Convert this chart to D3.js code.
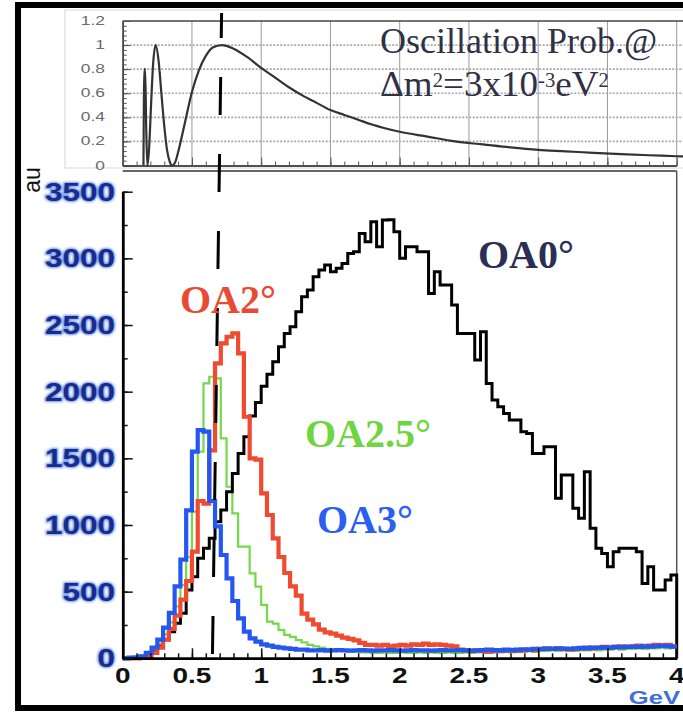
<!DOCTYPE html>
<html><head><meta charset="utf-8">
<script src="https://cdn.jsdelivr.net/npm/d3@7"></script>
<style>body{margin:0;background:#fff}svg{display:block}</style>
</head><body><svg id="c" width="683" height="714"></svg>
<script>
// ---------------- DATA ----------------
const binWidth = 1 / 24; // GeV per histogram bin (96 bins, 0-4 GeV)
const seriesNames = ["OA0°", "OA2°", "OA2.5°", "OA3°"];
const oa0 = [0,0,5,15,25,50,90,140,200,262,337,512,612,750,825,900,1025,1112,1250,1387,
  1537,1662,1818,1918,2040,2130,2225,2337,2437,2487,2600,2712,2762,2862,2912,2950,2900,2925,2962,3037,
  3050,3187,3125,3275,3087,3287,3290,3200,3000,3087,3087,3050,3050,2737,2900,2800,2800,2650,2437,2437,
  2437,2237,2450,2062,1937,1887,1837,1787,1787,1700,1687,1537,1537,1587,1587,1200,1375,1375,1125,1050,
  1400,975,825,787,687,800,825,825,825,800,562,687,512,512,587,625];
const oa2 = [0,0,0,5,15,40,80,140,220,320,440,580,800,1180,1160,1560,2212,2362,2412,2437,
  2287,1812,1500,1490,1237,1075,900,760,640,540,470,335,290,255,215,195,185,170,155,145,
  135,115,100,100,95,100,90,95,100,95,105,100,110,100,105,100,95,90,65,60,
  55,60,55,50,55,60,55,60,55,60,65,60,70,75,70,75,70,65,70,75,
  80,75,80,85,80,85,90,85,90,95,90,95,100,95,100,90];
const oa25 = [0,3,8,15,35,65,110,180,270,390,550,760,1100,1550,2062,2112,2100,1650,1287,1087,
  837,837,637,537,400,275,260,212,175,160,137,120,100,90,80,70,65,60,55,50,
  50,45,45,40,40,45,40,40,45,40,40,45,40,45,40,40,45,40,40,45,
  40,45,45,40,45,45,50,45,50,50,55,50,55,55,60,55,60,60,55,60,
  60,65,60,65,65,70,65,70,70,75,70,75,75,80,75,80];
const oa3 = [0,5,8,15,40,80,140,230,340,540,740,1110,1550,1712,1700,1180,990,775,600,430,
  300,200,150,125,105,95,85,80,75,70,65,65,60,60,62,58,60,62,60,58,
  60,62,60,58,60,60,62,60,58,60,62,60,60,58,60,62,60,60,62,60,
  58,60,62,65,62,60,65,62,65,68,65,70,68,72,70,75,72,70,75,78,
  75,80,78,82,80,85,82,85,88,85,90,88,92,95,92,88];
// oscillation probability
const probE = [0.150,0.156,0.162,0.170,0.178,0.190,0.205,0.220,0.238,0.260,0.280,0.300,0.320,0.340,0.358,
  0.380,0.400,0.450,0.500,0.550,0.600,0.650,0.716,0.800,0.900,1.000,1.100,1.200,1.300,1.400,1.500,1.600,
  1.700,1.800,2.000,2.200,2.400,2.600,2.800,3.000,3.200,3.400,3.600,3.800,4.000,4.050];
const probP = [0.00,0.80,0.80,0.30,0.00,0.13,0.51,0.85,1.00,0.86,0.59,0.33,0.13,0.03,0.00,
  0.03,0.11,0.36,0.61,0.79,0.91,0.98,1.00,0.97,0.90,0.81,0.73,0.65,0.58,0.52,0.46,0.42,
  0.38,0.34,0.28,0.24,0.20,0.175,0.15,0.13,0.118,0.105,0.094,0.085,0.077,0.075];
const xTicks = [0, 0.5, 1, 1.5, 2, 2.5, 3, 3.5, 4];
const xTickLabels = ["0", "0.5", "1", "1.5", "2", "2.5", "3", "3.5", "4"];
const yTicks = [0, 500, 1000, 1500, 2000, 2500, 3000, 3500];
const yTickLabels = ["0", "500", "1000", "1500", "2000", "2500", "3000", "3500"];
const probTicks = [0, 0.2, 0.4, 0.6, 0.8, 1, 1.2];
const probTickLabels = ["0", "0.2", "0.4", "0.6", "0.8", "1", "1.2"];
const markerE = [0.714, 0.648]; // dashed marker: energy at top and at bottom of the figure
const yTitle = "au";
const xUnit = "GeV";

// ---------------- DRAW ----------------
const svg = d3.select("#c");
const x = d3.scaleLinear().domain([0, 4]).range([122.7, 676.7]);
const y = d3.scaleLinear().domain([0, 3500]).range([658.3, 191.7]);
const yp = d3.scaleLinear().domain([0, 1.2]).range([165.5, 21]);

const defs = svg.append("defs");
const f = defs.append("filter").attr("id", "glow").attr("x", "-20%").attr("y", "-40%").attr("width", "140%").attr("height", "180%");
f.append("feGaussianBlur").attr("stdDeviation", 0.9);

function stext(g, px, py, txt, o) {
  return g.append("text")
    .attr("transform", `translate(${px},${py}) scale(${o.sx || 1},1)`)
    .attr("text-anchor", o.anchor || "start")
    .attr("font-family", o.family || "Liberation Sans, Arial, sans-serif")
    .attr("font-size", o.size)
    .attr("font-weight", o.weight || "normal")
    .attr("fill", o.fill || "#000")
    .text(txt);
}

// outer thick border
svg.append("rect").attr("x", 18).attr("y", 5).attr("width", 720).attr("height", 703)
  .attr("fill", "none").attr("stroke", "#000").attr("stroke-width", 6);

// ---------- upper panel (oscillation probability) ----------
const gTop = svg.append("g");
gTop.append("rect").attr("x", 65).attr("y", 10).attr("width", 640).attr("height", 158)
  .attr("fill", "#fff").attr("stroke", "#d6d6d6");
gTop.selectAll("line.vg").data(xTicks.slice(1)).join("line").attr("class", "vg")
  .attr("x1", d => x(d)).attr("x2", d => x(d)).attr("y1", yp(1.2)).attr("y2", yp(0))
  .attr("stroke", "#9a9a9a").attr("stroke-width", 1);
gTop.selectAll("line.hg").data(probTicks.slice(1, -1)).join("line").attr("class", "hg")
  .attr("x1", x(0)).attr("x2", 683).attr("y1", d => yp(d)).attr("y2", d => yp(d))
  .attr("stroke", "#a8a8a8").attr("stroke-width", 1.6).attr("stroke-dasharray", "2,1.5");
gTop.append("line").attr("x1", x(0)).attr("x2", 683).attr("y1", yp(1.2)).attr("y2", yp(1.2))
  .attr("stroke", "#444").attr("stroke-width", 1.5);
gTop.append("g").attr("transform", `translate(${x(0)},0)`)
  .call(d3.axisLeft(yp).tickValues(probTicks).tickSizeInner(-8).tickSizeOuter(0).tickFormat(() => ""));
gTop.append("g").attr("transform", `translate(${x(0)},0)`)
  .call(d3.axisLeft(yp).tickValues(d3.range(0, 1.2001, 0.04)).tickSizeInner(-4).tickSizeOuter(0).tickFormat(() => ""));
gTop.append("g").attr("transform", `translate(0,${yp(0)})`)
  .call(d3.axisBottom(x).tickValues(xTicks).tickSizeInner(-8).tickSizeOuter(0).tickFormat(() => ""));
gTop.append("g").attr("transform", `translate(0,${yp(0)})`)
  .call(d3.axisBottom(x).tickValues(d3.range(0, 4.0001, 0.1)).tickSizeInner(-4).tickSizeOuter(0).tickFormat(() => ""));
gTop.selectAll(".domain").attr("stroke", "#444").attr("stroke-width", 1.5);
gTop.selectAll(".tick line").attr("stroke", "#555");
gTop.selectAll("text.pl").data(probTicks).join("text").attr("class", "pl")
  .attr("transform", d => `translate(105,${yp(d) + 4}) scale(1.45,1)`)
  .attr("text-anchor", "end").attr("font-family", "Liberation Sans, Arial, sans-serif")
  .attr("font-size", 12).attr("fill", "#6a6a6a").text((d, i) => probTickLabels[i]);
const prob = probE.map((e, i) => [e, probP[i]]);
gTop.append("path").datum(prob)
  .attr("d", d3.line().x(d => Math.min(x(d[0]), 683)).y(d => yp(d[1])).curve(d3.curveMonotoneX))
  .attr("fill", "none").attr("stroke", "#333").attr("stroke-width", 2.2);
stext(gTop, 380, 53, "Oscillation Prob.@", {family: "Liberation Serif, Times New Roman, serif", size: 36, fill: "#2f3146", sx: 1.0});
const a2 = gTop.append("text").attr("transform", "translate(380,96) scale(1.03,1)")
  .attr("font-family", "Liberation Serif, Times New Roman, serif").attr("font-size", 36).attr("fill", "#2f3146");
a2.append("tspan").text("Δm");
a2.append("tspan").attr("dy", -9).attr("font-size", 20).text("2");
a2.append("tspan").attr("dy", 9).text("=3x10");
a2.append("tspan").attr("dy", -9).attr("font-size", 20).text("-3");
a2.append("tspan").attr("dy", 9).text("eV");
a2.append("tspan").attr("dy", -9).attr("font-size", 20).text("2");

// ---------- main panel ----------
const main = svg.append("g");
main.append("line").attr("x1", x(0)).attr("x2", x(4)).attr("y1", 171).attr("y2", 171)
  .attr("stroke", "#333").attr("stroke-width", 1.6);
main.append("line").attr("x1", x(4)).attr("x2", x(4)).attr("y1", 171).attr("y2", y(0))
  .attr("stroke", "#555").attr("stroke-width", 1.5);

function histPoints(vals, closeRight) {
  const p = vals.map((v, i) => [i * binWidth, v]);
  p.push([vals.length * binWidth, vals[vals.length - 1]]);
  if (closeRight) p.push([vals.length * binWidth, 0]);
  return p;
}
const hline = d3.line().x(d => x(d[0])).y(d => y(d[1])).curve(d3.curveStepAfter);
const series = [
  {vals: oa25, color: "#74d94a", w: 2.2, close: false},
  {vals: oa0, color: "#000", w: 3, close: true},
  {vals: oa2, color: "#ee4b30", w: 4.2, close: false},
  {vals: oa3, color: "#2457f0", w: 4.2, close: false}
];
main.selectAll("path.h").data(series).join("path").attr("class", "h")
  .attr("d", s => hline(histPoints(s.vals, s.close)))
  .attr("fill", "none").attr("stroke", s => s.color).attr("stroke-width", s => s.w);

main.append("g").attr("transform", `translate(0,${y(0)})`)
  .call(d3.axisBottom(x).tickValues(d3.range(0, 4.0001, 0.1)).tickSizeInner(-5).tickSizeOuter(0).tickFormat(() => ""));
main.append("g").attr("transform", `translate(0,${y(0)})`)
  .call(d3.axisBottom(x).tickValues(xTicks).tickSizeInner(-10).tickSizeOuter(0).tickFormat(() => ""));
main.append("g").attr("transform", `translate(${x(0)},0)`)
  .call(d3.axisLeft(y).tickValues(d3.range(0, 3500.1, 250)).tickSizeInner(-5).tickSizeOuter(0).tickFormat(() => ""));
main.append("g").attr("transform", `translate(${x(0)},0)`)
  .call(d3.axisLeft(y).tickValues(yTicks).tickSizeInner(-10).tickSizeOuter(0).tickFormat(() => ""));
main.selectAll(".domain").attr("stroke", "#000").attr("stroke-width", 2.5);
main.selectAll(".tick line").attr("stroke", "#111").attr("stroke-width", 1.5);

const yl = main.append("g");
yl.selectAll("text.g").data(yTicks).join("text").attr("class", "g")
  .attr("transform", d => `translate(115,${y(d) + 9}) scale(1.26,1)`)
  .attr("text-anchor", "end").attr("font-family", "Liberation Sans, Arial, sans-serif")
  .attr("font-size", 25).attr("font-weight", "bold")
  .attr("fill", "#4f7be8").attr("stroke", "#4f7be8").attr("stroke-width", 2.2).attr("opacity", 0.85)
  .attr("filter", "url(#glow)").text((d, i) => yTickLabels[i]);
yl.selectAll("text.t").data(yTicks).join("text").attr("class", "t")
  .attr("transform", d => `translate(115,${y(d) + 9}) scale(1.26,1)`)
  .attr("text-anchor", "end").attr("font-family", "Liberation Sans, Arial, sans-serif")
  .attr("font-size", 25).attr("font-weight", "bold")
  .attr("fill", "#182c8a").text((d, i) => yTickLabels[i]);

main.selectAll("text.xl").data(xTicks).join("text").attr("class", "xl")
  .attr("transform", d => `translate(${x(d)},683) scale(1.27,1)`)
  .attr("text-anchor", "middle").attr("font-family", "Liberation Sans, Arial, sans-serif")
  .attr("font-size", 22).attr("font-weight", "bold").attr("fill", "#111")
  .text((d, i) => xTickLabels[i]);

stext(main, 680, 704, xUnit, {size: 19, weight: "bold", fill: "#3e70d8", anchor: "end", sx: 1.35});
main.append("text").attr("transform", "translate(40,180) rotate(-90)")
  .attr("text-anchor", "middle").attr("font-family", "Liberation Sans, Arial, sans-serif")
  .attr("font-size", 23).attr("fill", "#111").text(yTitle);

svg.append("line").attr("x1", x(markerE[0])).attr("y1", 13).attr("x2", x(markerE[1])).attr("y2", 655)
  .attr("stroke", "#000").attr("stroke-width", 3).attr("stroke-dasharray", "38,39").attr("stroke-dashoffset", 13);

const lab = svg.append("g").attr("font-family", "Liberation Serif, Times New Roman, serif")
  .attr("font-weight", "bold").attr("font-size", 40);
const labPos = [[478, 268, "#2c2f55"], [180, 313, "#ea4a33"], [305, 447, "#6fd540"], [317, 533, "#2a5ff0"]];
lab.selectAll("text").data(seriesNames).join("text")
  .attr("x", (d, i) => labPos[i][0]).attr("y", (d, i) => labPos[i][1])
  .attr("fill", (d, i) => labPos[i][2]).text(d => d);
</script></body></html>
